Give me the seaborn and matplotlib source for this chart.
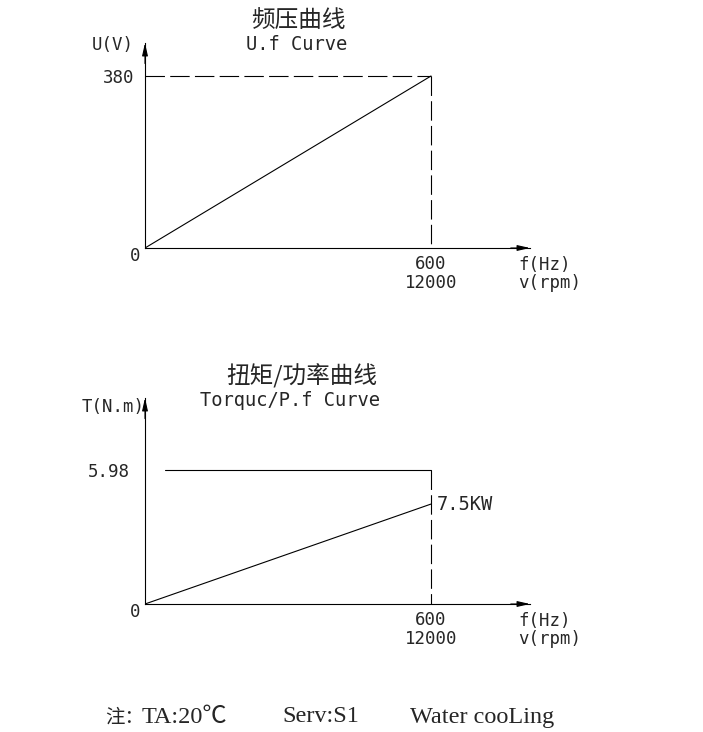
import matplotlib
matplotlib.use("Agg")
import matplotlib.pyplot as plt
import seaborn as sns

# ---- data ----
freq_hz = [0, 600]
rpm_at_max = 12000
voltage_v = [0, 380]
torque_nm = 5.98
torque_start_hz = 42
power_curve_t = [0, 4.46]   # power curve drawn in torque-axis units
power_label = "7.5KW"

top_title_cn = "频压曲线"
top_title_en = "U.f Curve"
bot_title_cn = "扭矩/功率曲线"
bot_title_en = "Torquc/P.f Curve"
footer_note = "注："
footer_parts = ["TA:20℃", "Serv:S1", "Water cooLing"]

# ---- style ----
sns.set_style("white")
plt.rcParams["font.family"] = ["DejaVu Sans", "Noto Sans CJK SC"]
plt.rcParams["lines.scale_dashes"] = False

W, H = 703, 732
fig = plt.figure(figsize=(W / 100, H / 100), dpi=100)

MONO = ["DejaVu Sans Mono", "Noto Sans CJK SC"]
FS = 12.5
FS_T = 13.5
DASH = (0, (14.0, 3.8))
LW = 0.8


def px_axes(left, right, top, bottom):
    return fig.add_axes([left / W, 1 - bottom / H, (right - left) / W, (bottom - top) / H])


def ftext(x, y, s, **kw):
    fig.text(x / W, 1 - y / H, s, **kw)


def base_axes(ax, xmax, ymax):
    ax.set_xlim(0, xmax)
    ax.set_ylim(0, ymax)
    for s in ["top", "right"]:
        ax.spines[s].set_visible(False)
    for s in ["left", "bottom"]:
        ax.spines[s].set_color("black")
        ax.spines[s].set_linewidth(LW)
    ax.set_facecolor("none")
    ax.tick_params(length=0)
    style = "-|>,head_length=0.75,head_width=0.17"
    ax.annotate("", xy=(1, 0), xytext=(0.95, 0), xycoords="axes fraction",
                arrowprops=dict(arrowstyle=style, color="black", lw=LW,
                                shrinkA=0, shrinkB=0), annotation_clip=False)
    ax.annotate("", xy=(0, 1), xytext=(0, 0.9), xycoords="axes fraction",
                arrowprops=dict(arrowstyle=style, color="black", lw=LW,
                                shrinkA=0, shrinkB=0), annotation_clip=False)


# x range so that 600 Hz lands at px 431 with axis from 145 to 530
x_max = freq_hz[1] * (530 - 145) / (431 - 145)

# ---------- top chart ----------
ax1 = px_axes(145, 530, 43, 248)
y1_max = voltage_v[1] * (248 - 43) / (248 - 76)
base_axes(ax1, x_max, y1_max)

sns.lineplot(x=freq_hz, y=voltage_v, ax=ax1, color="black", lw=LW,
             estimator=None, sort=False)
sns.lineplot(x=freq_hz, y=[voltage_v[1]] * 2, ax=ax1, color="black", lw=LW,
             linestyle=DASH, estimator=None, sort=False)
sns.lineplot(x=[freq_hz[1]] * 2, y=voltage_v[::-1], ax=ax1, color="black", lw=LW,
             linestyle=DASH, estimator=None, sort=False)

ax1.set_yticks([voltage_v[1]], labels=[str(voltage_v[1])], fontsize=FS, family=MONO)
ax1.set_xticks([freq_hz[1]], labels=[f"{freq_hz[1]}\n{rpm_at_max}"], fontsize=FS,
               family=MONO, linespacing=1.05)
ax1.tick_params(axis="x", pad=5)
ax1.tick_params(axis="y", pad=8)

ftext(298, 20, top_title_cn, ha="center", va="center", fontsize=17,
      family="Noto Sans CJK SC")
ftext(297, 45, top_title_en, ha="center", va="center", fontsize=FS_T, family=MONO)
ftext(113, 45, "U(V)", ha="center", va="center", fontsize=FS, family=MONO)
ftext(135, 256, "0", ha="center", va="center", fontsize=FS, family=MONO)
ftext(518, 265, "f(Hz)", ha="left", va="center", fontsize=FS, family=MONO)
ftext(518, 283, "v(rpm)", ha="left", va="center", fontsize=FS, family=MONO)

# ---------- bottom chart ----------
ax2 = px_axes(145, 530, 398, 604)
y2_max = torque_nm * (604 - 398) / (604 - 470)
base_axes(ax2, x_max, y2_max)

sns.lineplot(x=[torque_start_hz, freq_hz[1]], y=[torque_nm] * 2, ax=ax2,
             color="black", lw=LW, estimator=None, sort=False)
sns.lineplot(x=[freq_hz[1]] * 2, y=[torque_nm, 0], ax=ax2, color="black", lw=LW,
             linestyle=DASH, estimator=None, sort=False)
sns.lineplot(x=freq_hz, y=power_curve_t, ax=ax2, color="black", lw=LW,
             estimator=None, sort=False)

ax2.set_yticks([torque_nm], labels=[f"{torque_nm:.2f}"], fontsize=FS, family=MONO)
ax2.set_xticks([freq_hz[1]], labels=[f"{freq_hz[1]}\n{rpm_at_max}"], fontsize=FS,
               family=MONO, linespacing=1.05)
ax2.tick_params(axis="x", pad=5)
ax2.tick_params(axis="y", pad=11)
ax2.annotate(power_label, (freq_hz[1], power_curve_t[1]), xytext=(4, 0),
             textcoords="offset points", ha="left", va="center", fontsize=FS_T,
             family=MONO)

ftext(302, 376, bot_title_cn, ha="center", va="center", fontsize=17,
      family="Noto Sans CJK SC")
ftext(290, 400, bot_title_en, ha="center", va="center", fontsize=FS_T, family=MONO)
ftext(113, 407, "T(N.m)", ha="center", va="center", fontsize=FS, family=MONO)
ftext(135, 612, "0", ha="center", va="center", fontsize=FS, family=MONO)
ftext(518, 621, "f(Hz)", ha="left", va="center", fontsize=FS, family=MONO)
ftext(518, 639, "v(rpm)", ha="left", va="center", fontsize=FS, family=MONO)

# ---------- footer ----------
SERIF = ["Liberation Serif", "Noto Sans CJK SC"]
ftext(105, 717, footer_note, ha="left", va="center", fontsize=14,
      family="Noto Sans CJK SC")
for xpos, s in zip([142, 282, 410], footer_parts):
    ftext(xpos, 717, s, ha="left", va="center", fontsize=17.5, family=SERIF)

fig.savefig("out.png", dpi=100)
